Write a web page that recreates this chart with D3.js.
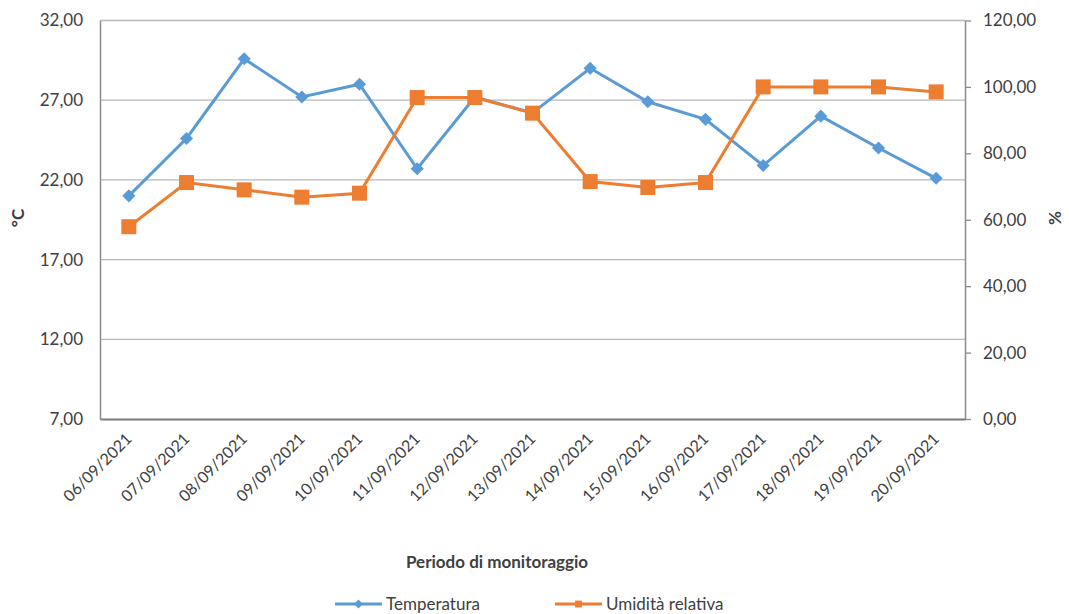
<!DOCTYPE html>
<html>
<head>
<meta charset="utf-8">
<title>Temperatura e umidità</title>
<script src="https://d3js.org/d3.v7.min.js"></script>
<style>
  body { margin: 0; background: #fff; }
  text { font-family: Lato, "Liberation Sans", sans-serif; fill: #404040; }
</style>
</head>
<body>
<script>
// data
var dates = ["06/09/2021", "07/09/2021", "08/09/2021", "09/09/2021", "10/09/2021",
             "11/09/2021", "12/09/2021", "13/09/2021", "14/09/2021", "15/09/2021",
             "16/09/2021", "17/09/2021", "18/09/2021", "19/09/2021", "20/09/2021"];
var temperatura = [21.0, 24.6, 29.6, 27.2, 28.0, 22.7, 27.2, 26.2, 29.0, 26.9, 25.8, 22.9, 26.0, 24.0, 22.1];
var umidita = [57.9, 71.2, 69.0, 66.8, 68.0, 96.8, 96.8, 92.1, 71.5, 69.7, 71.2, 100.0, 100.0, 100.0, 98.5];
var tempTicks = [7, 12, 17, 22, 27, 32];
var humTicks = [0, 20, 40, 60, 80, 100, 120];

var width = 1069, height = 614;
var plotL = 100, plotR = 965, plotT = 20.5, plotB = 419;

var svg = d3.select("body").append("svg")
    .attr("width", width)
    .attr("height", height);

var x = d3.scaleBand().domain(dates).range([plotL, plotR]);
var yT = d3.scaleLinear().domain([7, 32]).range([plotB, plotT]);
var yH = d3.scaleLinear().domain([0, 120]).range([plotB, plotT]);

var fmt = function(d) { return d3.format(".2f")(d).replace(".", ","); };

// gridlines
svg.append("g")
    .selectAll("line")
    .data(tempTicks.filter(function(d) { return d > 7; }))
    .enter().append("line")
    .attr("x1", plotL).attr("x2", plotR)
    .attr("y1", function(d) { return yT(d); })
    .attr("y2", function(d) { return yT(d); })
    .attr("stroke", "#b8b8b8")
    .attr("stroke-width", 1.3);

// left axis
var gl = svg.append("g")
    .attr("transform", "translate(" + plotL + ",0)")
    .call(d3.axisLeft(yT).tickValues(tempTicks).tickFormat(fmt).tickSize(0).tickPadding(17));
gl.select(".domain").attr("stroke", "#8c8c8c").attr("stroke-width", 1.5);
gl.selectAll("text").style("font-size", "17px").attr("fill", "#404040");

// right axis
var gr = svg.append("g")
    .attr("transform", "translate(" + plotR + ",0)")
    .call(d3.axisRight(yH).tickValues(humTicks).tickFormat(fmt).tickSize(6).tickSizeOuter(0).tickPadding(12));
gr.select(".domain").attr("stroke", "#8c8c8c").attr("stroke-width", 1.5);
gr.selectAll(".tick line").attr("stroke", "#8c8c8c").attr("stroke-width", 1.3);
gr.selectAll("text").style("font-size", "17px").attr("fill", "#404040");

// bottom axis
var gb = svg.append("g")
    .attr("transform", "translate(0," + plotB + ")")
    .call(d3.axisBottom(x).tickSize(0).tickSizeOuter(0).tickPadding(0));
gb.select(".domain").attr("stroke", "#7a7a7a").attr("stroke-width", 2);
gb.selectAll("text")
    .style("font-size", "16px")
    .style("text-anchor", "end")
    .attr("dy", "0")
    .attr("transform", "translate(4,21) rotate(-45)");

// lines
var colT = "#5b9bd5", colH = "#ed7d31";
var cx = function(i) { return x(dates[i]) + x.bandwidth() / 2; };

svg.append("path")
    .datum(temperatura)
    .attr("fill", "none")
    .attr("stroke", colT)
    .attr("stroke-width", 3)
    .attr("d", d3.line().x(function(d, i) { return cx(i); }).y(function(d) { return yT(d); }));

svg.selectAll(".mt")
    .data(temperatura)
    .enter().append("path")
    .attr("class", "mt")
    .attr("transform", function(d, i) { return "translate(" + cx(i) + "," + yT(d) + ")"; })
    .attr("d", d3.symbol().type(d3.symbolDiamond2).size(110))
    .attr("fill", colT);

svg.append("path")
    .datum(umidita)
    .attr("fill", "none")
    .attr("stroke", colH)
    .attr("stroke-width", 3)
    .attr("d", d3.line().x(function(d, i) { return cx(i); }).y(function(d) { return yH(d); }));

svg.selectAll(".mh")
    .data(umidita)
    .enter().append("rect")
    .attr("class", "mh")
    .attr("x", function(d, i) { return cx(i) - 7.5; })
    .attr("y", function(d) { return yH(d) - 7.5; })
    .attr("width", 15)
    .attr("height", 15)
    .attr("fill", colH);

// axis titles
svg.append("text")
    .attr("transform", "translate(24,218) rotate(-90)")
    .attr("text-anchor", "middle")
    .style("font-size", "17px")
    .style("font-weight", "bold")
    .text("°C");

svg.append("text")
    .attr("transform", "translate(1061,218) rotate(-90)")
    .attr("text-anchor", "middle")
    .style("font-size", "17px")
    .style("font-weight", "bold")
    .text("%");

svg.append("text")
    .attr("x", 497).attr("y", 568)
    .attr("text-anchor", "middle")
    .style("font-size", "17px")
    .style("font-weight", "bold")
    .attr("fill", "#000")
    .text("Periodo di monitoraggio");

// legend
var legend = [
    { name: "Temperatura", color: colT, x: 335, shape: "diamond" },
    { name: "Umidità relativa", color: colH, x: 555, shape: "square" }
];
var lg = svg.selectAll(".lg").data(legend).enter().append("g")
    .attr("class", "lg")
    .attr("transform", function(d) { return "translate(" + d.x + ",604)"; });
lg.append("line")
    .attr("x1", 0).attr("x2", 47)
    .attr("stroke", function(d) { return d.color; })
    .attr("stroke-width", 3);
lg.append("path")
    .attr("transform", "translate(23.5,0)")
    .attr("d", function(d) {
        return d.shape == "diamond"
            ? d3.symbol().type(d3.symbolDiamond2).size(50)()
            : d3.symbol().type(d3.symbolSquare2).size(60)();
    })
    .attr("fill", function(d) { return d.color; });
lg.append("text")
    .attr("x", 51).attr("y", 6)
    .style("font-size", "17px")
    .text(function(d) { return d.name; });
</script>
</body>
</html>
